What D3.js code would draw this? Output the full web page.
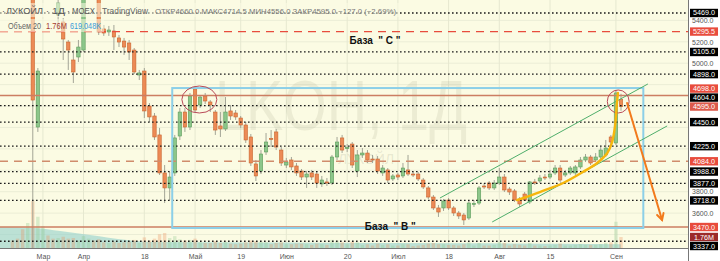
<!DOCTYPE html>
<html>
<head>
<meta charset="utf-8">
<script src="https://cdn.jsdelivr.net/npm/d3@7/dist/d3.min.js"></script>
<style>
  body { margin: 0; background: #fff; }
  svg { display: block; font-family: "Liberation Sans", Arial, sans-serif; }
</style>
</head>
<body>
<svg id="chart"></svg>
<script>
// LKOH daily, RUB. First four bars sit above the visible price range.
const opens = [6150,6100,5950,5760,5820,4404,5700,5800,5700,5450,5385,5198,5030,5058,5123,5640,5720,5640,5320,5292,
  5301,5236,5207,5189,5123,4890,4927,4600,4507,4330,3975,3835,3975,4320,4544,4404,4759,4610,4694,4638,
  4544,4414,4386,4554,4535,4488,4423,4311,4059,3993,4171,4297,4358,4189,4049,4096,4040,3993,3937,3975,
  3965,3872,3891,3881,4124,4302,4203,4245,3993,4143,4161,4105,4105,3975,4003,3919,3956,3947,4003,3965,
  3965,3909,3835,3750,3648,3648,3722,3648,3601,3582,3554,3680,3694,3853,3881,3835,3881,3937,3825,3807,
  3732,3778,3704,3891,3900,3937,3937,3975,4021,3956,3975,3975,4031,4096,4124,4096,4124,4143,4311,4255,4660];
const highs = [6250,6180,6050,5900,5850,4955,5950,5900,5760,5600,5422,5217,5123,5217,5680,5760,5780,5680,5357,5348,
  5357,5264,5236,5217,5142,4937,4955,4628,4535,4395,4049,3984,4330,4582,4582,4722,4787,4703,4722,4656,
  4563,4544,4684,4610,4563,4507,4451,4339,4096,4189,4348,4376,4386,4217,4115,4124,4068,4012,3993,4003,
  3984,3947,3928,4143,4311,4330,4245,4264,4189,4208,4189,4143,4133,4049,4021,3965,3975,4068,4143,3984,
  3984,3928,3853,3769,3676,3732,3741,3666,3620,3601,3713,3722,3853,3881,3900,3909,4021,3965,3844,3825,
  3750,3797,3900,3919,3956,3965,4003,4049,4049,4003,4040,4049,4124,4152,4143,4161,4217,4283,4330,4750,4714.5];
const lows = [6050,5900,5700,5650,3000,4358,5620,5650,5610,5310,5030,4937,4815,5011,5105,5600,5610,5264,5255,5255,
  5123,5151,5077,5030,4899,4843,4488,4451,4283,3956,3694,3722,3947,4283,4358,4376,4535,4582,4619,4544,
  4330,4311,4367,4470,4470,4395,4255,4040,3900,3965,4143,4217,4189,4040,4021,4003,3947,3909,3835,3909,
  3835,3844,3853,3863,4096,4161,4171,4021,3937,4115,4068,4068,3965,3947,3881,3900,3909,3928,3947,3937,
  3900,3825,3732,3629,3564,3620,3629,3573,3545,3489,3536,3657,3676,3825,3816,3816,3863,3797,3769,3704,
  3657,3713,3685,3863,3881,3909,3919,3956,3891,3937,3956,3956,4012,4077,4049,4077,4105,4124,4245,4236,4556];
const closes = [6100,5950,5760,5850,4656,4927,5800,5700,5640,5562,5226,5123,4918,5151,5620,5720,5650,5292,5282,5310,
  5245,5198,5151,5105,4918,4909,4554,4498,4311,3975,3835,3937,4302,4544,4404,4694,4563,4684,4647,4610,
  4376,4386,4544,4507,4498,4423,4283,4068,3947,4152,4264,4288,4217,4068,4077,4031,3975,3937,3965,3937,
  3881,3909,3881,4124,4264,4189,4213,4049,4143,4161,4096,4100,3993,4021,3909,3947,3937,4021,3965,3961,
  3919,3844,3750,3648,3610,3713,3648,3601,3573,3536,3694,3690,3835,3848,3835,3881,3937,3816,3797,3722,
  3685,3722,3891,3886,3928,3932,3965,4021,3909,3975,4021,4031,4096,4124,4068,4124,4189,4208,4264,4722,4595];
// volume, millions of shares
const volumes = [1.2,1.5,3.0,4.0,7.5,5.0,3.5,2.0,1.5,1.6,1.8,1.5,1.6,1.2,1.9,1.5,1.2,1.4,0.9,0.8,
  1.0,0.8,0.9,1.0,1.3,0.8,1.7,1.2,1.5,2.2,2.4,1.6,1.9,1.4,1.2,1.3,1.5,0.9,0.8,0.8,
  1.1,0.8,1.0,0.7,0.6,0.7,0.9,1.2,1.1,1.0,0.9,0.6,0.8,0.9,0.6,0.6,0.7,0.7,0.6,0.5,
  0.7,0.6,0.5,1.3,1.2,0.9,0.6,1.0,0.9,0.5,0.6,0.4,0.7,0.5,0.6,0.4,0.4,0.6,0.6,0.3,
  0.4,0.5,0.7,0.8,0.6,0.6,0.5,0.5,0.4,0.6,0.9,0.4,0.8,0.4,0.4,0.5,1.0,0.8,0.4,0.6,
  0.5,0.4,0.8,0.4,0.4,0.3,0.4,0.5,0.7,0.4,0.4,0.5,0.6,0.5,0.5,0.5,0.6,0.8,0.9,4.2,1.76];
// volume MA(20), read at a few bars
const volMaBars = [-2.5, 4.4, 9.4, 15.3, 22.6, 27.1, 60, 90, 120];
const volMaValues = [3.36, 3.2, 2.72, 2.08, 1.28, 0.96, 0.85, 0.75, 0.62];

const timeLabels = ["Мар", "Апр", "18", "Май", "19", "Июн", "20", "Июл", "18", "Авг", "15", "Сен"];
const timeLabelBars = [6, 14, 26, 36, 45, 54, 66, 76, 86, 96, 106, 119];
const priceTicks = [3400, 3600, 3800, 4000, 4200, 4400, 4600, 4800, 5000, 5200, 5400];

const dottedLevels = [5469, 5105, 4898, 4604, 4450, 4225, 3988, 3877, 3718, 3337];
const redDashLevels = [5295.5];
const brownSolidLevels = [4698, 3470];
const brownDashLevels = [4084];

// drawings (bar index, price)
const baseBox = [[31.5, 4768], [124.4, 3461]];
const channelUpper = [[84.3, 3741], [125.3, 4806]];
const channelLower = [[94.6, 3517], [129.1, 4414]];
const rallyCurve = [[99.5, 3722], [104.0, 3797], [108.6, 3881], [112.5, 3984], [115.3, 4068],
  [117.3, 4161], [118.2, 4255], [118.8, 4404], [119.2, 4628], [119.4, 4722]];
const forecastArrow = [[121.2, 4628], [128.1, 3536]];
const circledAreas = [[[33.4, 4787], [40.3, 4535]], [[117.3, 4750], [121.6, 4535]]];
const baseNotes = [["База  \" С \"", 71.5, 5180], ["База  \" В \"", 74.5, 3445]];

const W = 720, H = 261, paneW = 688, paneH = 248;
const bg = "#fbfbe3";
const fmt = d3.format(".1f");

const svg = d3.select("#chart").attr("width", W).attr("height", H);
svg.append("rect").attr("width", W).attr("height", H).attr("fill", "#fff");
svg.append("rect").attr("width", paneW).attr("height", paneH).attr("fill", bg);

svg.append("clipPath").attr("id", "pane")
  .append("rect").attr("width", paneW).attr("height", paneH);

const x = d3.scaleLinear().domain([0, opens.length - 1]).range([12.5, 621]);
const y = d3.scaleLinear().domain([3274, 5590.4]).range([paneH, 0]);
const yVol = d3.scaleLinear().domain([0, 39.7]).range([paneH, 0]);

const pane = svg.append("g").attr("clip-path", "url(#pane)");

// grid
pane.append("g").selectAll("line").data(priceTicks).join("line")
  .attr("x1", 0).attr("x2", paneW)
  .attr("y1", d => y(d)).attr("y2", d => y(d))
  .attr("stroke", "#ebedd6");
pane.append("g").selectAll("line").data(timeLabelBars).join("line")
  .attr("x1", d => x(d)).attr("x2", d => x(d))
  .attr("y1", 0).attr("y2", paneH)
  .attr("stroke", "#e6e8d0");

// watermark
pane.append("text")
  .attr("x", 341).attr("y", 130)
  .attr("text-anchor", "middle")
  .attr("font-size", 70)
  .attr("textLength", 252).attr("lengthAdjust", "spacingAndGlyphs")
  .attr("fill", "#8a8a70").attr("fill-opacity", 0.13)
  .text("LKOH, 1Д");
pane.append("text")
  .attr("x", 366).attr("y", 164)
  .attr("text-anchor", "middle")
  .attr("font-size", 14)
  .attr("fill", "#8a8a70").attr("fill-opacity", 0.18)
  .text("ЛУКОЙЛ");

// volume MA area and bars
const maPts = volMaBars.map((b, i) => [b, volMaValues[i]]);
pane.append("path")
  .datum(maPts)
  .attr("fill", "#93d1cc").attr("fill-opacity", 0.6)
  .attr("d", d3.area().curve(d3.curveMonotoneX)
    .x(d => x(d[0])).y0(paneH).y1(d => yVol(d[1])));

const bars = d3.range(opens.length).map(i => ({
  i, o: opens[i], h: highs[i], l: lows[i], c: closes[i], v: volumes[i]
}));
const bw = 3.4;

pane.append("g").selectAll("rect").data(bars).join("rect")
  .attr("x", d => x(d.i) - bw / 2).attr("width", bw)
  .attr("y", d => yVol(d.v)).attr("height", d => paneH - yVol(d.v))
  .attr("fill", d => d.c >= d.o ? "#8cc68a" : "#ec8a55")
  .attr("fill-opacity", 0.3);

// price levels
function levels(data, color, dash, width) {
  pane.append("g").selectAll("line").data(data).join("line")
    .attr("x1", 0).attr("x2", paneW)
    .attr("y1", d => y(d)).attr("y2", d => y(d))
    .attr("stroke", color).attr("stroke-width", width)
    .attr("stroke-dasharray", dash);
}

// candles
const cg = pane.append("g");
cg.selectAll("line").data(bars).join("line")
  .attr("x1", d => x(d.i)).attr("x2", d => x(d.i))
  .attr("y1", d => y(d.h)).attr("y2", d => y(d.l))
  .attr("stroke", "#a3a596").attr("stroke-width", 1);
cg.selectAll("rect").data(bars).join("rect")
  .attr("x", d => x(d.i) - bw / 2).attr("width", bw)
  .attr("y", d => y(Math.max(d.o, d.c)))
  .attr("height", d => Math.max(1, Math.abs(y(d.o) - y(d.c))))
  .attr("fill", d => d.c >= d.o ? "#8cc68a" : "#ec8a55")
  .attr("stroke", d => d.c >= d.o ? "#5d9c5b" : "#c9652f")
  .attr("stroke-width", 0.6);

levels(dottedLevels, "#1a1a1a", "1.6,2.4", 1.3);
levels(redDashLevels, "#e84c3d", "8,6", 1.3);
levels(brownSolidLevels, "#cc7e62", null, 1.4);
levels(brownDashLevels, "#d08c6c", "8,6", 1.4);

// drawings
pane.append("rect")
  .attr("x", x(baseBox[0][0])).attr("y", y(baseBox[0][1]))
  .attr("width", x(baseBox[1][0]) - x(baseBox[0][0]))
  .attr("height", y(baseBox[1][1]) - y(baseBox[0][1]))
  .attr("fill", "none").attr("stroke", "#8ccfe8").attr("stroke-width", 2);

const line = d3.line().x(d => x(d[0])).y(d => y(d[1]));
[channelUpper, channelLower].forEach(seg => {
  pane.append("path").attr("d", line(seg))
    .attr("fill", "none").attr("stroke", "#4fae6b").attr("stroke-width", 1);
});

circledAreas.forEach(([a, b]) => {
  pane.append("ellipse")
    .attr("cx", (x(a[0]) + x(b[0])) / 2).attr("cy", (y(a[1]) + y(b[1])) / 2)
    .attr("rx", (x(b[0]) - x(a[0])) / 2).attr("ry", (y(b[1]) - y(a[1])) / 2)
    .attr("fill", "none").attr("stroke", "#b94a58").attr("stroke-width", 1);
});

pane.append("path")
  .attr("d", d3.line().curve(d3.curveCatmullRom).x(d => x(d[0])).y(d => y(d[1]))(rallyCurve))
  .attr("fill", "none").attr("stroke", "#f6b60c").attr("stroke-width", 2.4)
  .attr("stroke-linecap", "round");

{
  const [p0, p1] = forecastArrow.map(d => [x(d[0]), y(d[1])]);
  const ang = Math.atan2(p1[1] - p0[1], p1[0] - p0[0]);
  const len = 7, spread = 0.5;
  const arm = s => [p1[0] - len * Math.cos(ang + s), p1[1] - len * Math.sin(ang + s)];
  const ag = pane.append("g").attr("stroke", "#f27a1c").attr("stroke-width", 2)
    .attr("fill", "none").attr("stroke-linecap", "round");
  ag.append("path").attr("d", d3.line()([p0, p1]));
  ag.append("path").attr("d", d3.line()([arm(spread), p1, arm(-spread)]));
}

pane.append("g").selectAll("text").data(baseNotes).join("text")
  .attr("x", d => x(d[1])).attr("y", d => y(d[2]))
  .attr("text-anchor", "middle")
  .attr("font-size", 10).attr("font-weight", "bold").attr("fill", "#111")
  .attr("xml:space", "preserve")
  .text(d => d[0]);

// legend
const lg = svg.append("g");
lg.append("rect").attr("x", 0).attr("y", 3).attr("width", 400).attr("height", 14)
  .attr("fill", bg).attr("fill-opacity", 0.55);
lg.append("rect").attr("x", 0).attr("y", 19).attr("width", 104).attr("height", 13)
  .attr("fill", bg).attr("fill-opacity", 0.55);
const legendBits = [
  ["·", 2, 13.5, 9, null, "#555"],
  ["ЛУКОЙЛ", 6, 13.5, 9.5, 37, "#555"],
  ["·", 46, 13.5, 9, null, "#555"],
  ["1Д", 52, 13.5, 9.5, 13, "#555"],
  ["·", 67, 13.5, 9, null, "#555"],
  ["MOEX", 72, 13.5, 9.5, 23, "#555"],
  ["TradingView", 102, 13.5, 9.5, 46, "#666"],
  ["ОТКР4660.0 МАКС4714.5 МИН4556.0 ЗАКР4595.0 −127.0 (−2.69%)", 155, 13.5, 7.5, 241, "#777"],
  ["Объем 20", 8, 28.5, 8.5, 33, "#666"],
  ["1.76M", 46, 28.5, 8.5, 21, "#a53a2e"],
  ["619.048K", 70, 28.5, 8.5, 31, "#3a9ad9"]
];
legendBits.forEach(([t, lx, ly, fs, tl, col]) => {
  const el = lg.append("text").attr("x", lx).attr("y", ly)
    .attr("font-size", fs).attr("fill", col).text(t);
  if (tl) el.attr("textLength", tl).attr("lengthAdjust", "spacingAndGlyphs");
});

svg.append("line").attr("x1", 0).attr("x2", paneW).attr("y1", paneH + 0.5).attr("y2", paneH + 0.5)
  .attr("stroke", "#777");
svg.append("line").attr("x1", paneW + 0.5).attr("x2", paneW + 0.5).attr("y1", 0).attr("y2", H)
  .attr("stroke", "#777");

// price labels on the scale, pushed apart around the fixed ones
const LH = 9;
const tags = [
  ...dottedLevels.map(v => ({ y: y(v), text: fmt(v), bg: "#000" })),
  ...redDashLevels.concat(brownSolidLevels, brownDashLevels).map(v => ({ y: y(v), text: fmt(v), bg: "#e84c3d" })),
  { y: y(closes[closes.length - 1]), text: fmt(closes[closes.length - 1]), bg: "#dc5a4b", fixed: true },
  { y: yVol(volumes[volumes.length - 1]), text: "1.76M", bg: "#9c2a2a", fixed: true }
].sort((a, b) => a.y - b.y);
tags.forEach((t, a) => {
  if (!t.fixed) return;
  for (let j = a - 1; j >= 0; j--) tags[j].y = Math.min(tags[j].y, tags[j + 1].y - LH);
  for (let j = a + 1; j < tags.length; j++) tags[j].y = Math.max(tags[j].y, tags[j - 1].y + LH);
});

// scale ticks that would sit under a tag are left out
const freeTicks = priceTicks.filter(v => tags.every(t => Math.abs(t.y - y(v)) > 6.5));

const yAxis = svg.append("g").attr("transform", `translate(${paneW + 4},0)`)
  .call(d3.axisRight(y).tickValues(freeTicks).tickFormat(fmt).tickSize(0).tickPadding(0));
yAxis.select(".domain").remove();
yAxis.selectAll("text").attr("font-size", 7).attr("fill", "#555").attr("font-family", null);

const xAxis = svg.append("g").attr("transform", `translate(0,${paneH})`)
  .call(d3.axisBottom(x).tickValues(timeLabelBars).tickFormat((d, i) => timeLabels[i]).tickSize(0).tickPadding(6));
xAxis.select(".domain").remove();
xAxis.selectAll("text").attr("font-size", 7).attr("fill", "#555").attr("font-family", null);

const tg = svg.append("g").selectAll("g").data(tags).join("g")
  .attr("transform", d => `translate(690,${d.y})`);
tg.append("rect").attr("x", 0).attr("y", -4.2).attr("width", 28).attr("height", 8.4)
  .attr("fill", d => d.bg);
tg.append("text").attr("x", 14).attr("y", 2.5).attr("text-anchor", "middle")
  .attr("font-size", 7.2).attr("fill", "#fff").text(d => d.text);
</script>
</body>
</html>
